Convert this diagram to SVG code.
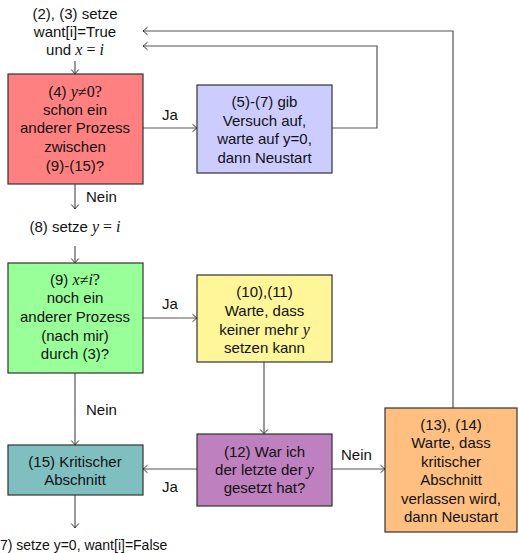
<svg xmlns="http://www.w3.org/2000/svg" width="518" height="553" viewBox="0 0 518 553">
  <style>
    .box { stroke: #333; stroke-width: 1.2; }
    .t { font-family: "Liberation Sans", "DejaVu Sans", sans-serif; font-size: 15px; fill: #111; text-anchor: middle; }
    .lbl { font-family: "Liberation Sans", "DejaVu Sans", sans-serif; font-size: 15px; fill: #111; }
    .m { font-family: "Liberation Serif", "DejaVu Serif", serif; font-style: italic; font-size: 16px; }
    .r { font-family: "Liberation Serif", "DejaVu Serif", serif; font-size: 16px; }
    .edge { fill: none; stroke: #555; stroke-width: 1.2; }
  </style>
  <defs>
    <marker id="arr" markerUnits="userSpaceOnUse" markerWidth="12" markerHeight="12" viewBox="-6 -6 12 12" refX="0" refY="0" orient="auto">
      <path d="M -4.5 -3.8 Q -1.2 -0.8 0 0 Q -1.2 0.8 -4.5 3.8" fill="none" stroke="#333" stroke-width="1"/>
    </marker>
  </defs>

  <!-- connectors -->
  <g id="connectors">
    <path class="edge" d="M 75 61 V 74" marker-end="url(#arr)"/>
    <path class="edge" d="M 143 128 H 197" marker-end="url(#arr)"/>
    <path class="edge" d="M 332 128 H 377 V 46 H 143" marker-end="url(#arr)"/>
    <path class="edge" d="M 75 184 V 209" marker-end="url(#arr)"/>
    <path class="edge" d="M 75 246 V 263" marker-end="url(#arr)"/>
    <path class="edge" d="M 143 318 H 197" marker-end="url(#arr)"/>
    <path class="edge" d="M 264 362 V 434" marker-end="url(#arr)"/>
    <path class="edge" d="M 75 373 V 445" marker-end="url(#arr)"/>
    <path class="edge" d="M 197 469 H 143" marker-end="url(#arr)"/>
    <path class="edge" d="M 332 469 H 385" marker-end="url(#arr)"/>
    <path class="edge" d="M 453 408 V 31 H 143" marker-end="url(#arr)"/>
    <path class="edge" d="M 75 495 V 528" marker-end="url(#arr)"/>
    <text class="lbl" x="162" y="120">Ja</text>
    <text class="lbl" x="86" y="202">Nein</text>
    <text class="lbl" x="162" y="309">Ja</text>
    <text class="lbl" x="86" y="415">Nein</text>
    <text class="lbl" x="162" y="492">Ja</text>
    <text class="lbl" x="341" y="460">Nein</text>
  </g>

  <!-- start statement -->
  <g id="start">
    <text class="t" x="75" y="19">(2), (3) setze</text>
    <text class="t" x="75" y="37">want[i]=True</text>
    <text class="t" x="75" y="55">und <tspan class="m">x</tspan><tspan class="r"> = </tspan><tspan class="m">i</tspan></text>
  </g>

  <g id="n4">
    <rect class="box" x="8" y="74" width="135" height="110" fill="#ff8080"/>
    <text class="t" x="75" y="97">(4) <tspan class="m">y</tspan><tspan class="r">≠0?</tspan></text>
    <text class="t" x="75" y="115">schon ein</text>
    <text class="t" x="75" y="133">anderer Prozess</text>
    <text class="t" x="75" y="152">zwischen</text>
    <text class="t" x="75" y="171">(9)-(15)?</text>
  </g>

  <g id="n5">
    <rect class="box" x="197" y="85" width="135" height="88" fill="#ccccff"/>
    <text class="t" x="264.5" y="107">(5)-(7) gib</text>
    <text class="t" x="264.5" y="126">Versuch auf,</text>
    <text class="t" x="264.5" y="144">warte auf y=0,</text>
    <text class="t" x="264.5" y="163">dann Neustart</text>
  </g>

  <g id="n8">
    <text class="t" x="75" y="232">(8) setze <tspan class="m">y</tspan><tspan class="r"> = </tspan><tspan class="m">i</tspan></text>
  </g>

  <g id="n9">
    <rect class="box" x="8" y="263" width="135" height="110" fill="#99ff99"/>
    <text class="t" x="75" y="285">(9) <tspan class="m">x</tspan><tspan class="r">≠</tspan><tspan class="m">i</tspan><tspan class="r">?</tspan></text>
    <text class="t" x="75" y="303">noch ein</text>
    <text class="t" x="75" y="322">anderer Prozess</text>
    <text class="t" x="75" y="341">(nach mir)</text>
    <text class="t" x="75" y="359">durch (3)?</text>
  </g>

  <g id="n10">
    <rect class="box" x="197" y="275" width="135" height="87" fill="#fff599"/>
    <text class="t" x="264.5" y="297">(10),(11)</text>
    <text class="t" x="264.5" y="316">Warte, dass</text>
    <text class="t" x="264.5" y="335">keiner mehr <tspan class="m">y</tspan></text>
    <text class="t" x="264.5" y="353">setzen kann</text>
  </g>

  <g id="n12">
    <rect class="box" x="197" y="434" width="135" height="72" fill="#bf80bf"/>
    <text class="t" x="264.5" y="457">(12) War ich</text>
    <text class="t" x="264.5" y="475">der letzte der <tspan class="m">y</tspan></text>
    <text class="t" x="264.5" y="493">gesetzt hat?</text>
  </g>

  <g id="n13">
    <rect class="box" x="385" y="408" width="132" height="124" fill="#ffbf80"/>
    <text class="t" x="451" y="430">(13), (14)</text>
    <text class="t" x="451" y="448">Warte, dass</text>
    <text class="t" x="451" y="467">kritischer</text>
    <text class="t" x="451" y="485">Abschnitt</text>
    <text class="t" x="451" y="504">verlassen wird,</text>
    <text class="t" x="451" y="522">dann Neustart</text>
  </g>

  <g id="n15">
    <rect class="box" x="8" y="445" width="135" height="50" fill="#80bfbf"/>
    <text class="t" x="75" y="467">(15) Kritischer</text>
    <text class="t" x="75" y="485">Abschnitt</text>
  </g>

  <g id="end">
    <text class="lbl" x="0" y="550" style="font-size:14px">7) setze y=0, want[i]=False</text>
  </g>
</svg>
